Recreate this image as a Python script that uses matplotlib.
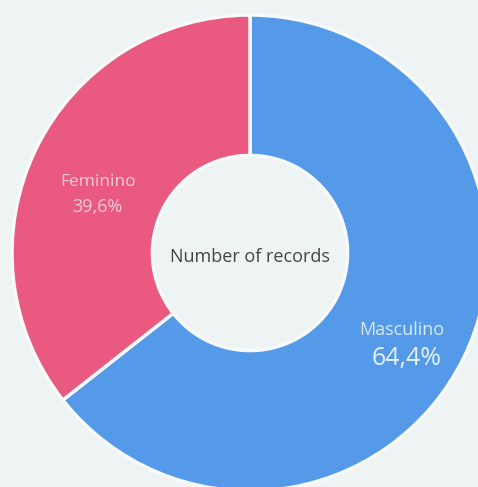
import matplotlib.pyplot as plt

# data
labels = ['Masculino', 'Feminino']
shares = [64.4, 35.6]
share_text = ['64,4%', '39,6%']
colors = ['#5599e9', '#ea5a80']
center_text = 'Number of records'

plt.rcParams['font.family'] = ['Open Sans', 'DejaVu Sans']

bg = '#eef4f3'
fig = plt.figure(figsize=(4.78, 4.87), dpi=100)
fig.patch.set_facecolor(bg)
ax = fig.add_axes([0, 0, 1, 1])
ax.set_facecolor(bg)

wedges, _ = ax.pie(shares, colors=colors, startangle=90, counterclock=False,
                   radius=1.0, wedgeprops=dict(width=0.59, edgecolor='#f6fafa', linewidth=2.5))

# chart is cropped: centre at pixel (250, 253), radius ~238 px
scale = 238.0
ax.set_xlim(-250 / scale, (478 - 250) / scale)
ax.set_ylim(-(487 - 253) / scale, 253 / scale)
ax.set_aspect('auto')
ax.axis('off')


def px(x, y):
    return (x - 250) / scale, (253 - y) / scale


ax.text(*px(402, 330), labels[0], ha='center', va='center', fontsize=13, color='#d6ecef')
ax.text(*px(407, 358), share_text[0], ha='center', va='center', fontsize=18, color='#e4f2f4')
ax.text(*px(98, 182), labels[1], ha='center', va='center', fontsize=12.5, color='#f3c9d6')
ax.text(*px(97, 207), share_text[1], ha='center', va='center', fontsize=13, color='#f3c9d6')
ax.text(*px(250, 257), center_text, ha='center', va='center', fontsize=13, color='#444444')

fig.savefig('out.png', dpi=100, facecolor=fig.get_facecolor())
